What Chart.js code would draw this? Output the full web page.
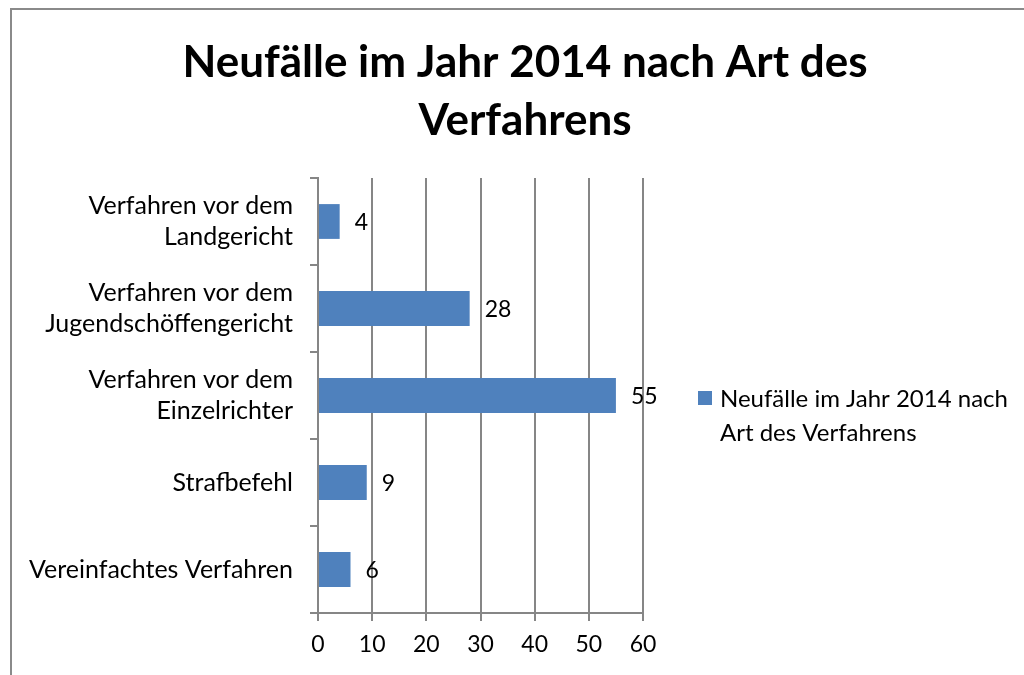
<!DOCTYPE html>
<html>
<head>
<meta charset="utf-8">
<script src="https://cdn.jsdelivr.net/npm/chart.js@4/dist/chart.umd.min.js"></script>
<style>
  html, body { margin: 0; padding: 0; background: #fff; overflow: hidden; }
  #frame { position: absolute; left: 10px; top: 8px; width: 1100px; height: 760px; border: 2px solid #8a8a8a; }
  #chart { position: absolute; left: 0; top: 0; }
</style>
</head>
<body>
<div id="frame"></div>
<canvas id="chart" width="1024" height="675"></canvas>
<script>
// setup
const titleLines = ['Neufälle im Jahr 2014 nach Art des', 'Verfahrens'];
const seriesName = 'Neufälle im Jahr 2014 nach Art des Verfahrens';
const legendLines = ['Neufälle im Jahr 2014 nach', 'Art des Verfahrens'];
const categories = [
  ['Verfahren vor dem', 'Landgericht'],
  ['Verfahren vor dem', 'Jugendschöffengericht'],
  ['Verfahren vor dem', 'Einzelrichter'],
  'Strafbefehl',
  'Vereinfachtes Verfahren'
];
const values = [4, 28, 55, 9, 6];
const xTicks = [0, 10, 20, 30, 40, 50, 60];

const barColor = '#4f81bd';
const gridColor = '#868686';
const fontFamily = 'Lato, "Open Sans", sans-serif';

// title, legend and value labels
const extras = {
  id: 'extras',
  afterDraw(chart) {
    const ctx = chart.ctx;
    ctx.save();
    // title
    ctx.fillStyle = '#000';
    ctx.textAlign = 'center';
    ctx.textBaseline = 'middle';
    ctx.font = 'bold 44px ' + fontFamily;
    titleLines.forEach((t, i) => ctx.fillText(t, 525, 63 + i * 58));

    // value labels next to bars
    ctx.font = '23px ' + fontFamily;
    ctx.textAlign = 'left';
    const meta = chart.getDatasetMeta(0);
    meta.data.forEach((bar, i) => {
      ctx.fillText(values[i], bar.x + 15, bar.y + 1);
    });

    // legend
    ctx.fillStyle = barColor;
    ctx.fillRect(698, 391, 14, 14);
    ctx.fillStyle = '#000';
    ctx.font = '24px ' + fontFamily;
    legendLines.forEach((t, i) => ctx.fillText(t, 720, 399 + i * 34));
    ctx.restore();
  }
};

const config = {
  type: 'bar',
  data: {
    labels: categories,
    datasets: [{
      label: seriesName,
      data: values,
      backgroundColor: barColor,
      barPercentage: 0.4,
      categoryPercentage: 1
    }]
  },
  options: {
    indexAxis: 'y',
    responsive: false,
    animation: false,
    layout: {
      padding: { top: 178, right: 381, left: 0, bottom: 0 }
    },
    plugins: {
      legend: { display: false },
      tooltip: { enabled: false }
    },
    scales: {
      x: {
        min: 0,
        max: 60,
        afterBuildTicks: (s) => { s.ticks = xTicks.map(v => ({ value: v })); },
        afterFit: (s) => { s.height = 62; },
        grid: {
          color: gridColor,
          lineWidth: 2,
          tickLength: 8
        },
        border: { color: gridColor, width: 2 },
        ticks: {
          color: '#000',
          padding: 10,
          font: { family: fontFamily, size: 23 }
        }
      },
      y: {
        afterFit: (s) => { s.width = 318; },
        grid: {
          color: gridColor,
          lineWidth: 2,
          drawOnChartArea: false,
          tickLength: 8
        },
        border: { color: gridColor, width: 2 },
        ticks: {
          color: '#000',
          padding: 17,
          font: { family: fontFamily, size: 25, lineHeight: 1.25 }
        }
      }
    }
  },
  plugins: [extras]
};

// render init block
const chart = new Chart(document.getElementById('chart'), config);
</script>
</body>
</html>
